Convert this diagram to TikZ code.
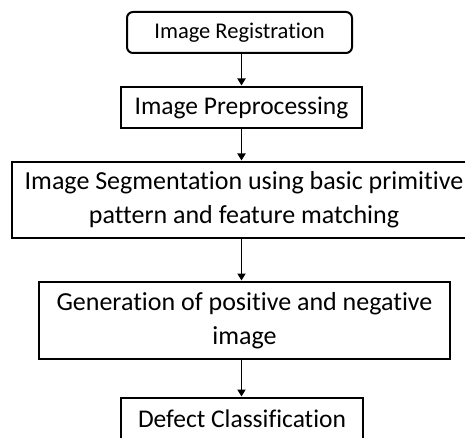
\documentclass[tikz,border=0pt]{standalone}
\usepackage{fontspec}
\setmainfont[Ligatures=NoCommon]{Carlito}
\usetikzlibrary{arrows.meta}
\begin{document}
\begin{tikzpicture}[x=1pt,y=-1pt,
  stage/.style={draw=black, line width=2pt, fill=white, inner sep=0pt,
    align=center, text=black, font=\fontsize{25.5}{34}\selectfont},
  wide/.style={font=\fontsize{26}{34}\selectfont},
  flow/.style={draw=black, line width=1.8pt,
    -{Triangle[length=7pt,width=8pt]}, shorten >=0.5pt}]
\useasboundingbox[fill=white] (0,0) rectangle (465,438);

\node[stage, rounded corners=6pt, minimum width=225pt, minimum height=41pt,
  font=\fontsize{22.5}{30}\selectfont] (b1) at (239.5,32.5) {Image Registration};
\node[stage, minimum width=241pt, minimum height=41pt] (b2) at (241.5,107.5)
  {Image Preprocessing};
\node[stage, wide, minimum width=464pt, minimum height=76pt] (b3) at (244,200)
  {Image Segmentation using basic primitive\\pattern and feature matching};
\node[stage, wide, minimum width=411pt, minimum height=77pt] (b4) at (244.5,320.5)
  {Generation of positive and negative\\image};
\node[stage, minimum width=242pt, minimum height=41pt] (b5) at (242,418.5)
  {Defect Classification};

\draw[flow] (b1.south -| b2.south) -- (b2.north);
\draw[flow] (b2.south) -- (b3.north -| b2.south);
\draw[flow] (b3.south -| b2.south) -- (b4.north -| b2.south);
\draw[flow] (b4.south -| b2.south) -- (b5.north -| b2.south);
\end{tikzpicture}
\end{document}
